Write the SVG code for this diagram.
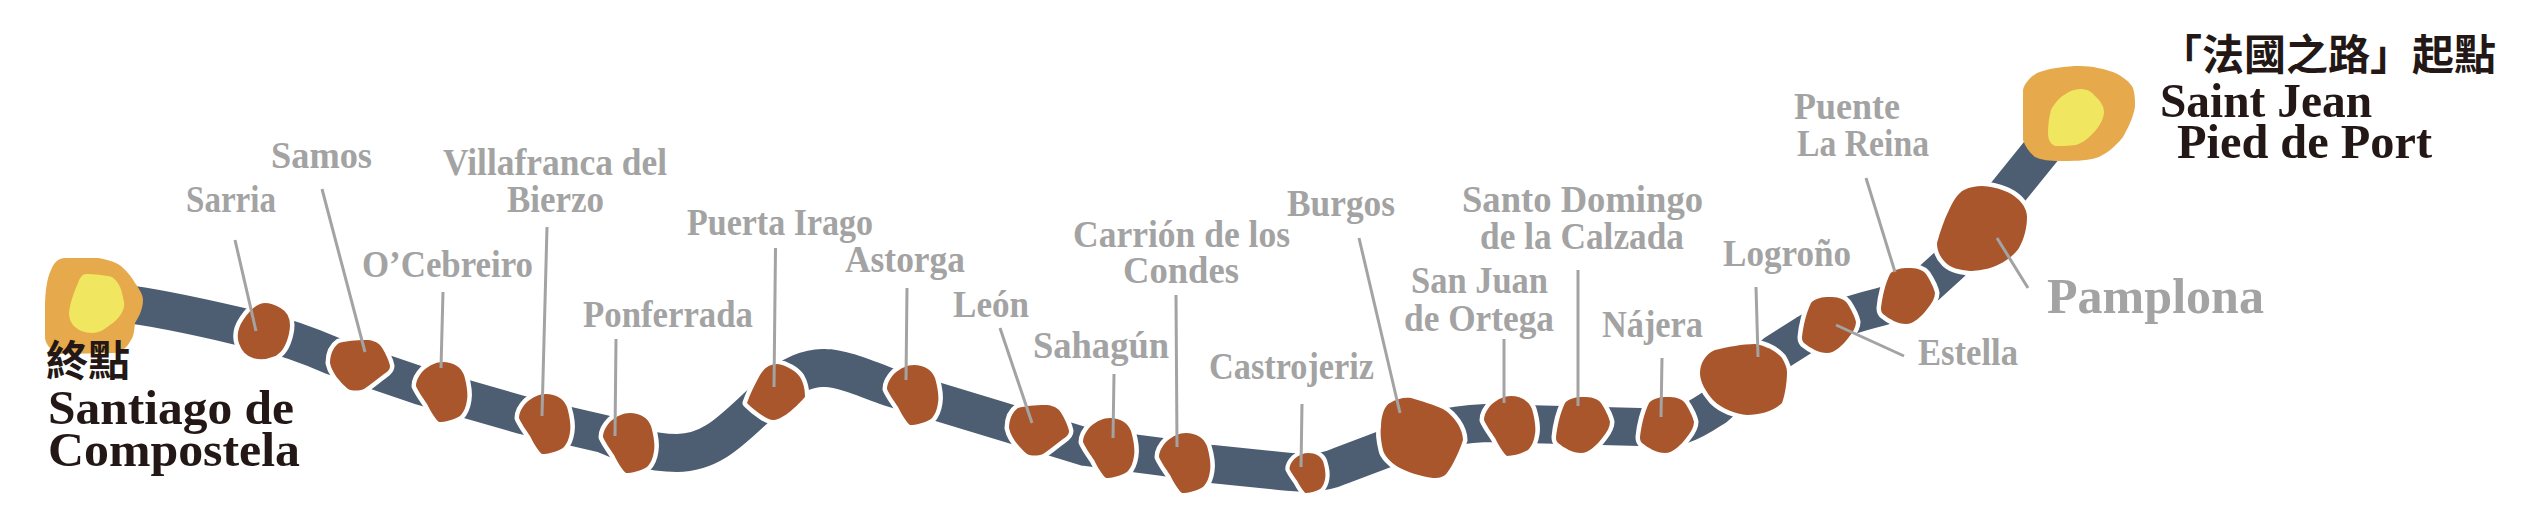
<svg xmlns="http://www.w3.org/2000/svg" width="2524" height="522" viewBox="0 0 2524 522">
<style>
.road{fill:none;stroke:#4d5d72;stroke-width:38;stroke-linejoin:round}
.blob{fill:#a9562c;stroke:#fff;stroke-width:9;paint-order:stroke;stroke-linejoin:round}
.or{fill:#e6a94b}.ye{fill:#f0e65f}
.lead{stroke:#a3a3a3;stroke-width:3;fill:none}
.lbl{font-family:"Liberation Serif",serif;font-weight:700;font-size:37px;fill:#a3a3a3}
.big{font-size:50px}
.dark{font-family:"Liberation Serif",serif;font-weight:700;font-size:49px;fill:#231815}
.cjk{font-family:"Liberation Serif","Noto Sans CJK TC",sans-serif;font-weight:700;font-size:42px;fill:#231815}
</style>
<defs>
<path id="shield" d="M2-30C12-30 20-25 23-17C26-7 27 3 26 8C25 15 23 20 19 24C12 28 4 30-2 30C-5 28-10 20-14 12C-18 6-23-1-25-6C-25-12-21-18-17-22C-11-27-5-30 2-30Z"/>
<path id="drop" d="M0-28C8-28 14-27 18-22C22-16 26-8 27-3C27 2 24 7 20 12C14 20 6 28-2 28C-10 28-19 23-25 18C-27 16-27 14-27 12C-26 2-23-12-18-22C-14-27-6-28 0-28Z"/>
<path id="pebble" d="M6-25C12-25 17-23 20-20C24-15 29-5 30 1C30 5 27 7 24 9C17 14 10 20 4 24C-1 26-8 26-12 24C-20 17-28 8-30-2C-30-10-27-18-21-22C-14-24-4-25 6-25Z"/>
</defs>
<g id="route">
<path class="road" d="M120 303C170 309 220 322 260 331C290 338 310 346 333 356L421 386L522 415L604 434C625 443 645 453 677 453C710 453 730 432 756 408L775 390C790 375 810 367 825 368C840 368 860 376 889 387L1011 424L1086 447L1163 457L1212 464L1280 471C1300 473 1320 475 1340 466L1385 449C1420 432 1445 425 1486 423L1640 427C1680 432 1695 420 1715 407L1776 353L1806 334C1830 320 1860 312 1880 307C1900 302 1915 295 1928 284L1950 264L2050 140"/>
</g>
<g id="santiago">
<path class="or" d="M65 258L98 258C110 260 118 263 122 267C128 272 132 278 135 283C140 290 143 295 143 300C143 310 138 318 135 323C134 331 134 336 131 340C127 348 120 353 114 353L58 354C50 350 45 343 45 337L45 307C45 292 47 278 51 270C54 262 59 258 65 258Z"/>
<path class="ye" d="M86 274C93 274 105 275 112 277C118 281 121 288 122 293C123 298 125 303 124 307C122 315 116 321 110 325C104 330 98 333 92 333C85 333 77 330 73 325C70 321 69 317 69 313C70 303 74 292 78 283C80 277 83 274 86 274Z"/>
<text class="cjk" x="46" y="376">終點</text>
<text class="dark" x="48" y="424" textLength="246" lengthAdjust="spacingAndGlyphs">Santiago de</text>
<text class="dark" x="48" y="466" textLength="252" lengthAdjust="spacingAndGlyphs">Compostela</text>
</g>
<g id="saint-jean">
<path class="or" d="M2080 66C2092 66 2104 69 2113 72C2122 76 2130 82 2133 88C2135 94 2135 101 2135 107C2133 118 2128 128 2123 137C2115 147 2105 155 2096 158C2085 161 2072 161 2060 161C2050 161 2041 160 2035 157C2029 152 2025 146 2023 140L2023 90C2024 84 2030 77 2037 73C2050 68 2066 66 2080 66Z"/>
<path class="ye" d="M2080 89C2086 89 2091 91 2094 95C2100 100 2104 106 2104 112C2104 118 2100 125 2096 130C2090 137 2083 143 2076 145C2069 146 2060 146 2055 146C2050 144 2048 139 2048 133C2048 125 2049 117 2051 110C2054 104 2059 98 2064 95C2069 91 2075 89 2080 89Z"/>
<text class="cjk" x="2160" y="70">「法國之路」起點</text>
<text class="dark" x="2160" y="117" textLength="212" lengthAdjust="spacingAndGlyphs">Saint Jean</text>
<text class="dark" x="2177" y="158" textLength="255" lengthAdjust="spacingAndGlyphs">Pied de Port</text>
</g>
<g id="sarria"><path class="blob" d="M260 304Q268 301 280.500 308Q293 315 289 333.500Q285 352 274 356.500Q263 361 253 358Q243 355 239 343.500Q235 332 243.500 319.500Q252 307 260 304Z"/><text class="lbl" x="186" y="212" textLength="90" lengthAdjust="spacingAndGlyphs">Sarria</text></g>
<g id="samos"><use class="blob" href="#pebble" transform="translate(360 365)"/><text class="lbl" x="271" y="168" textLength="101" lengthAdjust="spacingAndGlyphs">Samos</text></g>
<g id="ocebreiro"><use class="blob" href="#shield" transform="translate(441 392)"/><text class="lbl" x="362" y="277" textLength="171" lengthAdjust="spacingAndGlyphs">O’Cebreiro</text></g>
<g id="villafranca"><use class="blob" href="#shield" transform="translate(544 424)"/><text class="lbl" x="443" y="175" textLength="224" lengthAdjust="spacingAndGlyphs">Villafranca del</text><text class="lbl" x="507" y="212" textLength="97" lengthAdjust="spacingAndGlyphs">Bierzo</text></g>
<g id="ponferrada"><use class="blob" href="#shield" transform="translate(628 443)"/><text class="lbl" x="583" y="327" textLength="170" lengthAdjust="spacingAndGlyphs">Ponferrada</text></g>
<g id="puerta-irago"><path class="blob" transform="translate(776 392)" d="M1-28C10-27 20-21 24-15C28-8 29-2 29 5C22 13 8 27-2 28C-8 29-22 18-29 11C-26 2-21-8-16-17C-12-24-6-28 1-28Z"/><text class="lbl" x="687" y="235" textLength="186" lengthAdjust="spacingAndGlyphs">Puerta Irago</text></g>
<g id="astorga"><use class="blob" href="#shield" transform="translate(912 395)"/><text class="lbl" x="845" y="272" textLength="120" lengthAdjust="spacingAndGlyphs">Astorga</text></g>
<g id="leon"><use class="blob" href="#pebble" transform="translate(1039 430)"/><text class="lbl" x="953" y="317" textLength="76" lengthAdjust="spacingAndGlyphs">León</text></g>
<g id="sahagun"><use class="blob" href="#shield" transform="translate(1108 448)"/><text class="lbl" x="1033" y="358" textLength="136" lengthAdjust="spacingAndGlyphs">Sahagún</text></g>
<g id="carrion"><use class="blob" href="#shield" transform="translate(1184 463)"/><text class="lbl" x="1073" y="247" textLength="217" lengthAdjust="spacingAndGlyphs">Carrión de los</text><text class="lbl" x="1123" y="283" textLength="116" lengthAdjust="spacingAndGlyphs">Condes</text></g>
<g id="castrojeriz"><use class="blob" href="#shield" transform="translate(1307 473) scale(.7 .67)" style="stroke-width:12"/><text class="lbl" x="1209" y="379" textLength="165" lengthAdjust="spacingAndGlyphs">Castrojeriz</text></g>
<g id="burgos"><path class="blob" d="M1411 398C1422 401 1434 405 1443 409C1453 415 1463 428 1463 440C1460 450 1453 465 1447 473C1443 478 1437 478 1433 478C1420 476 1407 472 1398 467C1390 462 1384 455 1383 450C1381 442 1380 432 1381 427C1381 415 1385 405 1390 403C1396 399 1404 397 1411 398Z"/><text class="lbl" x="1287" y="216" textLength="108" lengthAdjust="spacingAndGlyphs">Burgos</text></g>
<g id="san-juan"><use class="blob" href="#shield" transform="translate(1509 426)"/><text class="lbl" x="1411" y="293" textLength="137" lengthAdjust="spacingAndGlyphs">San Juan</text><text class="lbl" x="1404" y="331" textLength="150" lengthAdjust="spacingAndGlyphs">de Ortega</text></g>
<g id="santo-domingo"><use class="blob" href="#drop" transform="translate(1583 425)"/><text class="lbl" x="1462" y="212" textLength="241" lengthAdjust="spacingAndGlyphs">Santo Domingo</text><text class="lbl" x="1480" y="249" textLength="204" lengthAdjust="spacingAndGlyphs">de la Calzada</text></g>
<g id="najera"><use class="blob" href="#drop" transform="translate(1667 425)"/><text class="lbl" x="1602" y="337" textLength="101" lengthAdjust="spacingAndGlyphs">Nájera</text></g>
<g id="logrono"><path class="blob" d="M1755 344C1767 346 1777 352 1782 358C1785 363 1787 368 1787 372C1787 382 1785 395 1782 403C1774 411 1760 415 1747 415C1736 414 1722 409 1713 400C1706 392 1700 382 1700 373C1700 364 1705 354 1715 350C1727 347 1743 344 1755 344Z"/><text class="lbl" x="1723" y="266" textLength="128" lengthAdjust="spacingAndGlyphs">Logroño</text></g>
<g id="estella"><use class="blob" href="#drop" transform="translate(1829 325)"/><text class="lbl" x="1918" y="365" textLength="100" lengthAdjust="spacingAndGlyphs">Estella</text></g>
<g id="puente-la-reina"><use class="blob" href="#drop" transform="translate(1908 296)"/><text class="lbl" x="1794" y="119" textLength="106" lengthAdjust="spacingAndGlyphs">Puente</text><text class="lbl" x="1797" y="156" textLength="132" lengthAdjust="spacingAndGlyphs">La Reina</text></g>
<g id="pamplona"><path class="blob" d="M1982 186C1998 187 2011 192 2019 200C2024 205 2027 211 2027 217C2027 228 2024 239 2019 248C2012 258 2000 265 1990 268C1983 270 1975 271 1970 271C1960 270 1950 268 1945 262C1939 256 1937 249 1937 243C1940 232 1944 220 1949 210C1953 201 1958 193 1964 190C1970 187 1976 186 1982 186Z"/><text class="lbl big" x="2047" y="313" textLength="217" lengthAdjust="spacingAndGlyphs">Pamplona</text></g>
<g id="connectors" class="lead">
<path d="M235 240L256 331"/><path d="M322 189L365 352"/><path d="M443 292L441 368"/><path d="M547 227L542 416"/><path d="M616 339L615 436"/><path d="M775.500 248L774 387"/><path d="M907 288L906 380"/><path d="M1000 328L1032 423"/><path d="M1114 374L1113 438"/><path d="M1176 295L1177 447"/><path d="M1302 404L1301 467"/><path d="M1359 238L1400 413"/><path d="M1504 339L1504 403"/><path d="M1578 270L1578 406"/><path d="M1662 358L1661 417"/><path d="M1756 287L1758 357"/><path d="M1866 178L1895 272"/><path d="M1836 325L1904 356"/><path d="M1997 238L2028 288"/>
</g>
</svg>
